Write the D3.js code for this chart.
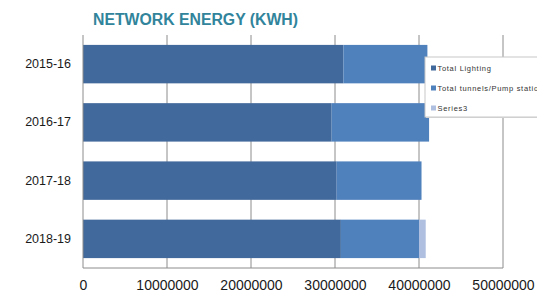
<!DOCTYPE html>
<html>
<head>
<meta charset="utf-8">
<script src="https://cdn.jsdelivr.net/npm/d3@7/dist/d3.min.js"></script>
<style>
  html, body { margin: 0; padding: 0; background: #fff; overflow: hidden; }
  svg { display: block; }
</style>
</head>
<body>
<div id="chart"></div>
<script>
const categories = ["2015-16", "2016-17", "2017-18", "2018-19"];
const lighting = [31000000, 29600000, 30200000, 30700000];
const tunnels = [10000000, 11600000, 10100000, 9300000];
const series3 = [0, 0, 0, 800000];
const seriesNames = ["Total Lighting", "Total tunnels/Pump stations", "Series3"];
const colors = ["#41699C", "#4F81BD", "#AFBFDF"];
const xTicks = [0, 10000000, 20000000, 30000000, 40000000, 50000000];

const W = 537, H = 292;
const svg = d3.select("#chart").append("svg").attr("width", W).attr("height", H);

const x = d3.scaleLinear().domain([0, 50000000]).range([83, 503]);
const y = d3.scaleBand().domain(categories).range([35, 268]).paddingInner(0.34).paddingOuter(0.17);

// title
svg.append("text")
  .attr("x", 93).attr("y", 25)
  .attr("font-family", "Liberation Sans, Arial, sans-serif")
  .attr("font-weight", "bold").attr("font-size", 16)
  .attr("fill", "#31849B")
  .attr("textLength", 205).attr("lengthAdjust", "spacingAndGlyphs")
  .text("NETWORK ENERGY (KWH)");

// gridlines
svg.append("g").selectAll("line").data(xTicks.slice(1)).join("line")
  .attr("x1", d => x(d)).attr("x2", d => x(d))
  .attr("y1", 35).attr("y2", 268)
  .attr("stroke", "#8c8c8c").attr("stroke-width", 1);

// stacked bars
const rows = categories.map((c, i) => ({ c, vals: [lighting[i], tunnels[i], series3[i]] }));
const stackData = rows.map(r => {
  let acc = 0;
  return r.vals.map((v, k) => { const s = acc; acc += v; return { c: r.c, k, x0: s, x1: acc }; });
});
svg.append("g").selectAll("g").data(stackData).join("g")
  .selectAll("rect").data(d => d.filter(e => e.x1 > e.x0)).join("rect")
  .attr("x", d => x(d.x0))
  .attr("width", d => x(d.x1) - x(d.x0))
  .attr("y", d => y(d.c))
  .attr("height", y.bandwidth())
  .attr("fill", d => colors[d.k]);

// left axis line and bottom axis line
svg.append("line").attr("x1", 83).attr("x2", 83).attr("y1", 35).attr("y2", 268)
  .attr("stroke", "#8c8c8c");
svg.append("line").attr("x1", 83).attr("x2", 503).attr("y1", 268).attr("y2", 268)
  .attr("stroke", "#8c8c8c");

// x tick labels
const xAxis = d3.axisBottom(x).tickValues(xTicks).tickSize(0).tickPadding(0).tickFormat(d3.format("d"));
const gx = svg.append("g").attr("transform", "translate(0,280)").call(xAxis);
gx.select(".domain").remove();
gx.selectAll("text")
  .attr("font-family", "Liberation Sans, Arial, sans-serif")
  .attr("font-size", 14).attr("fill", "#1a1a1a").attr("dy", "0.72em");

// y category labels
const yAxis = d3.axisLeft(y).tickSize(0).tickPadding(0);
const gy = svg.append("g").attr("transform", "translate(71,0)").call(yAxis);
gy.select(".domain").remove();
gy.selectAll("text")
  .attr("font-family", "Liberation Sans, Arial, sans-serif")
  .attr("font-size", 12.5).attr("fill", "#1a1a1a");

// legend
const lg = svg.append("g");
lg.append("rect").attr("x", 426).attr("y", 58).attr("width", 150).attr("height", 60)
  .attr("fill", "#d8d8d8");
lg.append("rect").attr("x", 425).attr("y", 57).attr("width", 150).attr("height", 60)
  .attr("fill", "#fff").attr("stroke", "#c8c8c8").attr("stroke-width", 1);
const legY = [68, 88, 108];
seriesNames.forEach((n, i) => {
  lg.append("rect").attr("x", 431).attr("y", legY[i] - 2.5).attr("width", 5).attr("height", 5)
    .attr("fill", colors[i]);
  lg.append("text").attr("x", 437.5).attr("y", legY[i]).attr("dy", "0.35em")
    .attr("font-family", "Liberation Sans, Arial, sans-serif")
    .attr("font-size", 7.5).attr("letter-spacing", 0.7).attr("fill", "#333")
    .text(n);
});
</script>
</body>
</html>
